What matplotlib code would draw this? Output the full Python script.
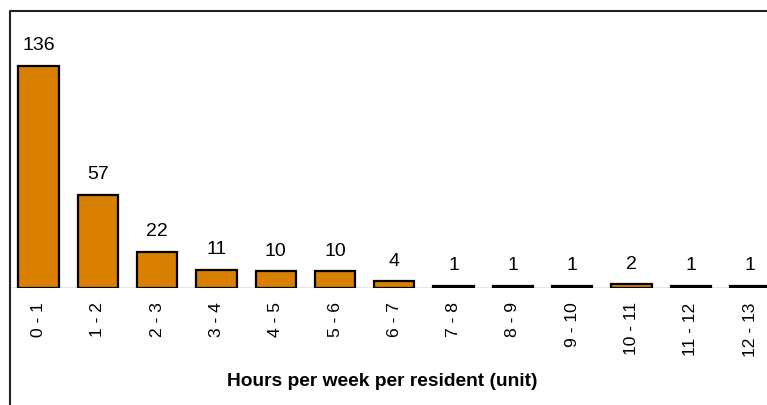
import matplotlib
matplotlib.use("Agg")
import matplotlib.pyplot as plt
from matplotlib.lines import Line2D

plt.rcParams['font.family'] = ['Liberation Sans', 'DejaVu Sans']

categories = ["0 - 1", "1 - 2", "2 - 3", "3 - 4", "4 - 5", "5 - 6", "6 - 7",
              "7 - 8", "8 - 9", "9 - 10", "10 - 11", "11 - 12", "12 - 13"]
counts = [136, 57, 22, 11, 10, 10, 4, 1, 1, 1, 2, 1, 1]
xlabel = "Hours per week per resident (unit)"

W, H = 767, 405
fig = plt.figure(figsize=(W / 100, H / 100), dpi=100)

base_px = 287.7
top_px = 10.5
left_px = 8.85
cat_w = 59.3
ax = fig.add_axes([left_px / W, (H - base_px) / H, 13 * cat_w / W, (base_px - top_px) / H])

x = list(range(len(categories)))
ax.bar(x, counts, width=0.68, color="#D98000", edgecolor="black", linewidth=1.6, zorder=3)
ax.set_xlim(-0.5, len(categories) - 0.5)
ax.set_ylim(0, (base_px - top_px) / 1.633)

for xi, v in zip(x, counts):
    ax.annotate(str(v), (xi, v), xytext=(0, 14.5), textcoords="offset points",
                ha="center", va="center", fontsize=14)

ax.axhline(0, color="#808080", linewidth=1.0, zorder=2)
for s in ax.spines.values():
    s.set_visible(False)
ax.set_yticks([])
ax.set_xticks(x)
ax.set_xticklabels(categories, rotation=90, fontsize=12.6)
ax.tick_params(axis="x", length=0, pad=10.5)
ax.set_xlabel(xlabel, fontsize=13.8, fontweight="bold", labelpad=12)
ax.xaxis.set_label_coords((382.5 - left_px) / (13 * cat_w), -(382 - base_px) / (base_px - top_px))
ax.xaxis.label.set_va("center")

# outer frame (left and top edges)
fx = 9.5 / W
fy = 1 - 10.5 / H
fig.add_artist(Line2D([fx, fx, 1.01], [-0.01, fy, fy], transform=fig.transFigure,
                      color="#222222", linewidth=1.5))

fig.savefig("out.png", dpi=100)
